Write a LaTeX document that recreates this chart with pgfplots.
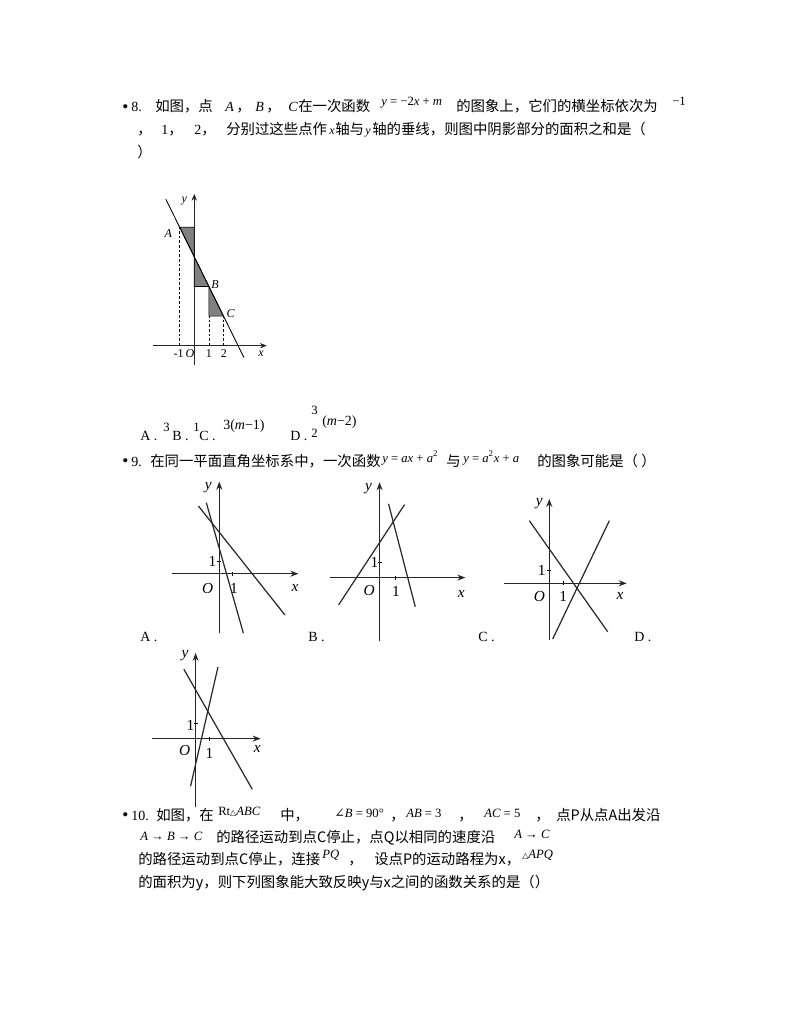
\documentclass[border=0pt]{standalone}
\usepackage{pgfplots}
\pgfplotsset{compat=1.18}
\usetikzlibrary{arrows.meta}
\usepackage{fontspec}
\setmainfont{Liberation Serif}
\newfontfamily\cjk{Noto Sans CJK SC}
\newfontfamily\dvs{DejaVu Serif}
\newcommand\T[3]{\node[anchor=base west,inner sep=0pt] at ({#1*0.75pt},{-#2*0.75pt}) {#3};}
\newcommand\C[3]{\T{#1}{#2}{\fontsize{10.8pt}{13pt}\selectfont\cjk #3}}
\newcommand\M[3]{\T{#1}{#2}{\fontsize{9.5pt}{11pt}\selectfont #3}}
\newcommand\R[3]{\T{#1}{#2}{\fontsize{10.5pt}{12pt}\selectfont #3}}
\newcommand\B[2]{\T{#1}{#2}{\fontsize{13pt}{14pt}\selectfont •}}
\pgfplotsset{
 diag/.style={anchor=origin, axis lines=middle, xtick=\empty, ytick=\empty, clip=false,
   axis line style={line width=0.8pt, draw=black!85, -{Stealth[length=6pt,width=4.5pt]}}},
 q9/.style={diag, xtick={1}, ytick={1}, xticklabels={}, yticklabels={},
   major tick length=3pt, tick style={line width=0.6pt, black}},
 pl/.style={draw=black!85, line width=0.9pt, no marks},
}
\newcommand\lab[3]{\node[inner sep=0pt] at (axis cs:#1,#2) {\fontsize{11.5pt}{13pt}\selectfont #3};}
\newcommand\slab[3]{\node[inner sep=0pt] at (axis cs:#1,#2) {\fontsize{9pt}{10pt}\selectfont #3};}
\begin{document}
\begin{tikzpicture}
\fill[white] (0,0) rectangle (794*0.75pt,-1028*0.75pt);
\useasboundingbox (0,0) rectangle (794*0.75pt,-1028*0.75pt);
% ---------------- Question 8 text
\B{122}{112}
\R{131}{111}{8.}
\C{155}{111}{如图，点}
\R{225}{111}{\textit{A}}\C{236}{111}{，}
\R{255}{111}{\textit{B}}\C{266}{111}{，}
\R{288}{111}{\textit{C}}\C{298}{111}{在一次函数}
\M{381}{105}{\textit{y} = −2\textit{x} + \textit{m}}
\C{456}{111}{的图象上，它们的横坐标依次为}
\M{672}{105}{−1}
\C{137}{134}{，}\R{161}{134}{1}\C{168}{134}{，}\R{194}{134}{2}\C{201}{134}{，}
\C{226}{134}{分别过这些点作}
\R{329}{134}{\fontsize{9pt}{10pt}\selectfont\textit{x}}
\C{335}{134}{轴与}
\R{365}{134}{\fontsize{9pt}{10pt}\selectfont\textit{y}}
\C{372}{134}{轴的垂线，则图中阴影部分的面积之和是（}
\C{137}{157}{）}
% ---------------- Question 8 figure
\begin{axis}[diag, at={(194.3*0.75pt,-345.7*0.75pt)}, x=10.95pt, y=11.1pt,
  xmin=-2.8, xmax=4.96, ymin=-1.3, ymax=10.25,
  axis line style={line width=0.6pt, draw=black!85, -{Stealth[length=5pt,width=4pt]}}]
\addplot[fill=gray, draw=black, line width=0.5pt] coordinates {(-1,8) (0,8) (0,6) (-1,8)};
\addplot[fill=gray, draw=black, line width=0.5pt] coordinates {(0,6) (0,4) (1,4) (0,6)};
\addplot[fill=gray, draw=black, line width=0.5pt] coordinates {(1,4) (1,2) (2,2) (1,4)};
\addplot[line width=0.65pt, draw=black] coordinates {(-1.95,9.9) (3.4,-0.8)};
\addplot[line width=0.5pt, draw=black, dash pattern=on 2pt off 1.5pt] coordinates {(-1,0) (-1,8)};
\addplot[line width=0.5pt, draw=black, dash pattern=on 2pt off 1.5pt] coordinates {(1,0) (1,2)};
\addplot[line width=0.5pt, draw=black, dash pattern=on 2pt off 1.5pt] coordinates {(2,0) (2,2)};
\slab{-1.78}{7.6}{\textit{A}}
\slab{1.42}{4.15}{\textit{B}}
\slab{2.5}{2.2}{\textit{C}}
\slab{-0.68}{9.8}{\textit{y}}
\slab{4.57}{-0.56}{\textit{x}}
\slab{-1.08}{-0.5}{-1}
\slab{-0.3}{-0.5}{\textit{O}}
\slab{1.0}{-0.5}{1}
\slab{2.03}{-0.5}{2}
\end{axis}
% ---------------- options Q8
\R{140}{440}{A .}\M{163}{431}{3}
\R{172}{440}{B .}\M{193}{431}{1}
\R{199}{440}{C .}\T{223}{429}{\fontsize{10.5pt}{12pt}\selectfont 3(\textit{m}−1)}
\R{290}{440}{D .}
\M{311}{414}{3}\M{311}{437}{2}
\T{322}{425}{\fontsize{10.5pt}{12pt}\selectfont (\textit{m}−2)}
% ---------------- Question 9 text
\B{122}{466}
\R{131}{466}{9.}
\C{150}{466}{在同一平面直角坐标系中，一次函数}
\M{382}{462}{\textit{y} = \textit{ax} + \textit{a}\textsuperscript{2}}
\C{446}{466}{与}
\M{463}{462}{\textit{y} = \textit{a}\textsuperscript{2}\textit{x} + \textit{a}}
\C{537}{466}{的图象可能是（ ）}
% ---------------- Q9 figure A
\begin{axis}[q9, at={(219.3*0.75pt,-573.7*0.75pt)}, x=10.05pt, y=9.53pt,
  xmin=-3.55, xmax=5.9, ymin=-4.7, ymax=7.24]
\addplot[pl] coordinates {(-1.56,5.33) (4.9,-3.25)};
\addplot[pl] coordinates {(-0.97,5.59) (1.8,-4.69)};
\lab{-0.82}{6.75}{\textit{y}}
\lab{5.65}{-1.13}{\textit{x}}
\lab{-0.87}{-1.13}{\textit{O}}
\lab{1.1}{-1.13}{1}
\lab{-0.52}{1.0}{1}
\end{axis}
% ---------------- Q9 figure B
\begin{axis}[q9, at={(379.6*0.75pt,-577.6*0.75pt)}, x=11.78pt, y=11.48pt,
  xmin=-3.14, xmax=5.46, ymin=-4.12, ymax=6.23]
\addplot[pl] coordinates {(-2.61,-1.78) (1.59,4.77)};
\addplot[pl] coordinates {(0.57,4.82) (2.27,-1.9)};
\lab{-0.7}{5.8}{\textit{y}}
\lab{5.2}{-1.07}{\textit{x}}
\lab{-0.66}{-0.85}{\textit{O}}
\lab{1.04}{-0.92}{1}
\lab{-0.32}{0.96}{1}
\end{axis}
% ---------------- Q9 figure C
\begin{axis}[q9, at={(549.3*0.75pt,-583.3*0.75pt)}, x=10.5pt, y=9.98pt,
  xmin=-3.24, xmax=5.53, ymin=-4.26, ymax=6.34]
\addplot[pl] coordinates {(-1.43,4.71) (4.17,-3.64)};
\addplot[pl] coordinates {(0.24,-4.19) (4.29,4.71)};
\lab{-0.71}{6.0}{\textit{y}}
\lab{5.05}{-0.93}{\textit{x}}
\lab{-0.71}{-1.0}{\textit{O}}
\lab{1.0}{-1.0}{1}
\lab{-0.54}{0.95}{1}
\end{axis}
% ---------------- Q9 figure D
\begin{axis}[q9, at={(195.6*0.75pt,-738.6*0.75pt)}, x=9.98pt, y=11.25pt,
  xmin=-3.26, xmax=4.89, ymin=-4.56, ymax=5.71]
\addplot[pl] coordinates {(-0.88,4.62) (4.26,-3.38)};
\addplot[pl] coordinates {(-0.38,-3.18) (1.68,4.77)};
\lab{-0.8}{5.5}{\textit{y}}
\lab{4.64}{-0.67}{\textit{x}}
\lab{-0.83}{-0.78}{\textit{O}}
\lab{1.05}{-0.98}{1}
\lab{-0.38}{0.89}{1}
\end{axis}
\R{140}{641}{A .}
\R{308}{641}{B .}
\R{478}{641}{C .}
\R{634}{641}{D .}
% ---------------- Question 10 text
\B{122}{820}
\R{131}{820}{10.}
\C{156}{820}{如图，在}
\M{218}{815}{Rt{\dvs\fontsize{6pt}{7pt}\selectfont △}\textit{ABC}}
\C{280}{820}{中，}
\M{334}{817}{{\dvs ∠}\textit{B} = 90°}
\C{390}{820}{，}
\M{406}{817}{\textit{AB} = 3}
\C{458}{820}{，}
\M{484}{817}{\textit{AC} = 5}
\C{535}{820}{，}
\C{556}{820}{点P从点A出发沿}
\M{140}{840}{\textit{A} → \textit{B} → \textit{C}}
\C{216}{842}{的路径运动到点C停止，点Q以相同的速度沿}
\M{514}{838}{\textit{A} → \textit{C}}
\C{138}{864}{的路径运动到点C停止，连接}
\M{322}{858}{\textit{PQ}}
\C{348}{864}{，}
\C{374}{864}{设点P的运动路程为x，}
\M{522}{858}{{\dvs\fontsize{6pt}{7pt}\selectfont △}\textit{APQ}}
\C{138}{887}{的面积为y，则下列图象能大致反映y与x之间的函数关系的是（）}
\end{tikzpicture}
\end{document}
